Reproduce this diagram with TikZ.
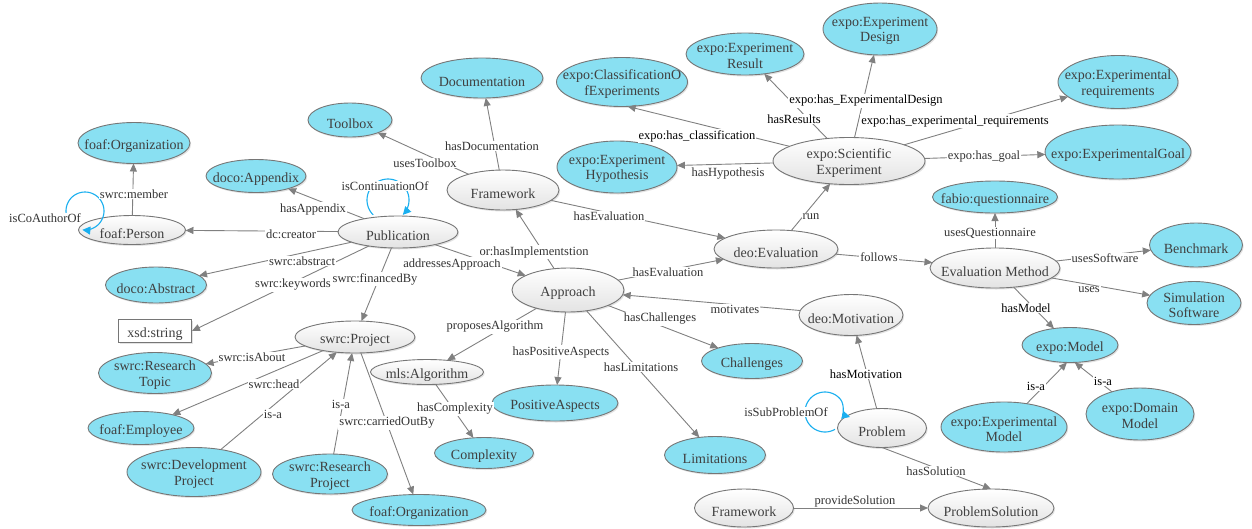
\documentclass[tikz,border=0pt]{standalone}
\usepackage{fontspec}
\setmainfont{Liberation Serif}
\usetikzlibrary{shapes.geometric,arrows.meta,shadows,calc}
\definecolor{bluec}{RGB}{137,224,242}
\definecolor{bordc}{RGB}{118,118,118}
\definecolor{edgec}{RGB}{128,128,128}
\definecolor{txtc}{RGB}{64,64,64}
\definecolor{lblc}{RGB}{50,50,50}
\definecolor{loopc}{RGB}{26,175,239}
\newcommand{\ellnode}[8]{\node[#6, minimum width=#4pt, minimum height=#5pt] (#1) at (#2,#3) {};\node[#7] (#1-t) at (#2,#3) {#8};}
\begin{document}
\begin{tikzpicture}[x=1pt,y=-1pt,
 shp/.style={ellipse, draw=bordc, line width=0.9pt, inner sep=0pt, outer sep=0pt, drop shadow={shadow xshift=1.2pt, shadow yshift=-1.5pt, opacity=0.22}},
 bnode/.style={shp, fill=bluec},
 wnode/.style={shp, top color=white, bottom color=black!11},
 rnode/.style={rectangle, draw=bordc, line width=0.9pt, inner sep=0pt, fill=white, drop shadow={shadow xshift=1.2pt, shadow yshift=-1.5pt, opacity=0.22}},
 txtm/.style={text=txtc, font=\fontsize{14}{15.5}\selectfont, align=center, inner sep=0pt, yshift=-2pt},
 txt1/.style={text=txtc, font=\fontsize{14}{15.5}\selectfont, inner sep=0pt, yshift=-3.5pt},
 conn/.style={draw=edgec, line width=0.9pt, -{Triangle[length=8pt,width=7pt]}},
 lbl/.style={fill=white, inner sep=1pt, text=lblc, font=\fontsize{12.5}{14}\selectfont},
 loopedge/.style={draw=loopc, line width=1.1pt, -{Triangle[length=8pt,width=8pt]}}
]
\useasboundingbox (0,0) rectangle (1252,528);
% nodes
\ellnode{orgTop}{134}{143}{112}{41}{bnode}{txt1}{foaf:Organization}
\ellnode{person}{132}{230}{107}{29}{wnode}{txt1}{foaf:Person}
\ellnode{appendix}{256}{176}{100}{33}{bnode}{txt1}{doco:Appendix}
\ellnode{toolbox}{350}{120}{84}{34}{bnode}{txt1}{Toolbox}
\ellnode{doc}{482}{78}{122}{40}{bnode}{txt1}{Documentation}
\ellnode{fwTop}{503}{190}{112}{40}{wnode}{txt1}{Framework}
\ellnode{pub}{398}{232}{120}{32}{wnode}{txt1}{Publication}
\ellnode{abstract}{156}{285}{101}{36}{bnode}{txt1}{doco:Abstract}
\node[rnode, minimum width=73pt, minimum height=23pt] (xsd) at (155,331) {};
\node[txt1] (xsd-t) at (155,331) {xsd:string};
\ellnode{topic}{155}{373}{113}{41}{bnode}{txtm}{swrc:Research\\Topic}
\ellnode{employee}{141}{428}{106}{33}{bnode}{txt1}{foaf:Employee}
\ellnode{devproj}{194}{472}{134}{49}{bnode}{txtm}{swrc:Development\\Project}
\ellnode{project}{355}{337}{120}{32}{wnode}{txt1}{swrc:Project}
\ellnode{resproj}{330}{474}{115}{40}{bnode}{txtm}{swrc:Research\\Project}
\ellnode{orgBot}{419}{510}{134}{31}{bnode}{txt1}{foaf:Organization}
\ellnode{algo}{427}{372}{113}{25}{wnode}{txt1}{mls:Algorithm}
\ellnode{complexity}{484}{453}{99}{31}{bnode}{txt1}{Complexity}
\ellnode{positive}{555}{403}{126}{36}{bnode}{txt1}{PositiveAspects}
\ellnode{approach}{568}{290}{112}{44}{wnode}{txt1}{Approach}
\ellnode{classif}{622}{82}{131}{49}{bnode}{txtm}{expo:ClassificationO\\fExperiments}
\ellnode{result}{745}{54}{118}{42}{bnode}{txtm}{expo:Experiment\\Result}
\ellnode{design}{880}{29}{114}{52}{bnode}{txtm}{expo:Experiment\\Design}
\ellnode{hypo}{617}{167}{120}{52}{bnode}{txtm}{expo:Experiment\\Hypothesis}
\ellnode{sciexp}{849}{161}{152}{47}{wnode}{txtm}{expo:Scientific\\Experiment}
\ellnode{req}{1118}{82}{120}{53}{bnode}{txtm}{expo:Experimental\\requirements}
\ellnode{goal}{1118}{152}{146}{54}{bnode}{txt1}{expo:ExperimentalGoal}
\ellnode{quest}{995}{197}{125}{32}{bnode}{txt1}{fabio:questionnaire}
\ellnode{evalm}{995}{268}{130}{40}{wnode}{txt1}{Evaluation Method}
\ellnode{bench}{1196}{245}{93}{44}{bnode}{txt1}{Benchmark}
\ellnode{sim}{1194}{303}{94}{43}{bnode}{txtm}{Simulation\\Software}
\ellnode{model}{1070}{345}{96}{35}{bnode}{txt1}{expo:Model}
\ellnode{expmodel}{1004}{427}{126}{50}{bnode}{txtm}{expo:Experimental\\Model}
\ellnode{dommodel}{1140}{414}{108}{52}{bnode}{txtm}{expo:Domain\\Model}
\ellnode{deoeval}{776}{249}{124}{38}{wnode}{txt1}{deo:Evaluation}
\ellnode{motiv}{851}{315}{104}{41}{wnode}{txt1}{deo:Motivation}
\ellnode{challenges}{752}{361}{101}{35}{bnode}{txt1}{Challenges}
\ellnode{limits}{715}{455}{101}{37}{bnode}{txt1}{Limitations}
\ellnode{problem}{882}{428}{89}{39}{wnode}{txt1}{Problem}
\ellnode{fwBot}{744}{508}{99}{38}{wnode}{txt1}{Framework}
\ellnode{solution}{991}{508}{126}{38}{wnode}{txt1}{ProblemSolution}
% connectors
\draw[conn] (person) -- (orgTop);
\draw[conn] (pub) -- (person);
\draw[conn] (pub) -- (appendix);
\draw[conn] (pub) -- (abstract);
\draw[conn] (pub) -- (xsd.east);
\draw[conn] (pub) -- (project);
\draw[conn] (pub) -- (approach);
\draw[conn] (fwTop) -- (toolbox);
\draw[conn] (fwTop) -- (doc);
\draw[conn] (fwTop) -- (deoeval);
\draw[conn] (approach) -- (fwTop);
\draw[conn] (approach) -- (deoeval);
\draw[conn] (motiv) -- (approach);
\draw[conn] (approach) -- (challenges);
\draw[conn] (approach) -- (limits);
\draw[conn] (approach) -- (positive);
\draw[conn] (approach) -- (algo);
\draw[conn] (algo) -- (complexity);
\draw[conn] (project) -- (topic);
\draw[conn] (project) -- (employee);
\draw[conn] (devproj) -- (project);
\draw[conn] (resproj) -- (project);
\draw[conn] (project) -- (orgBot);
\draw[conn] (sciexp) -- (classif.283);
\draw[conn] (sciexp) -- (hypo);
\draw[conn] (sciexp) -- (result);
\draw[conn] (sciexp) -- (design);
\draw[conn] (sciexp) -- (req);
\draw[conn] (sciexp) -- (goal);
\draw[conn] (deoeval) -- (sciexp);
\draw[conn] (deoeval) -- (evalm);
\draw[conn] (evalm) -- (quest);
\draw[conn] (evalm) -- (bench);
\draw[conn] (evalm) -- (sim);
\draw[conn] (evalm) -- (model);
\draw[conn] (expmodel) -- (model.-100);
\draw[conn] (dommodel) -- (model.-75);
\draw[conn] (problem) -- (motiv);
\draw[conn] (problem.south) -- (solution.north);
\draw[conn] (fwBot) -- (solution);
% self loops
\draw[loopedge] plot[domain=150:458, samples=60] ({85+19*cos(\x)},{211+19*sin(\x)});
\draw[loopedge] plot[domain=135:405, samples=60] ({388+21*cos(\x)},{200+21*sin(\x)});
\draw[loopedge] plot[domain=60:320, samples=60] ({825+20*cos(\x)},{412+20*sin(\x)}) .. controls (844.8,404.5) and (843,415) .. (850,417);
% labels
\node[lbl] (l1) at (134,194) {swrc:member};
\node[lbl] (l2) at (291,234) {dc:creator};
\node[lbl] (l3) at (313,209) {hasAppendix};
\node[lbl] (l4) at (302,261) {swrc:abstract};
\node[lbl] (l5) at (293,285) {swrc:keywords};
\node[lbl] (l6) at (375,279) {swrc:financedBy};
\node[lbl] (l7) at (452,264) {addressesApproach};
\node[lbl] (l8) at (425,163) {usesToolbox};
\node[lbl] (l9) at (492,146) {hasDocumentation};
\node[lbl] (l10) at (609,216) {hasEvaluation};
\node[lbl] (l11) at (534,252) {or:hasImplementstion};
\node[lbl] (l12) at (668,272) {hasEvaluation};
\node[lbl] (l13) at (735,309) {motivates};
\node[lbl] (l14) at (660,319) {hasChallenges};
\node[lbl] (l15) at (641,367) {hasLimitations};
\node[lbl] (l16) at (561,352) {hasPositiveAspects};
\node[lbl] (l17) at (495,327) {proposesAlgorithm};
\node[lbl] (l18) at (455,409) {hasComplexity};
\node[lbl] (l19) at (252,357) {swrc:isAbout};
\node[lbl] (l20) at (274,384) {swrc:head};
\node[lbl] (l21) at (273,414) {is-a};
\node[lbl] (l22) at (341,404) {is-a};
\node[lbl] (l23) at (387,423) {swrc:carriedOutBy};
\node[lbl, text=black] (l24) at (697,136) {expo:has\_classification};
\node[lbl] (l25) at (728,174) {hasHypothesis};
\node[lbl, text=black] (l26) at (794,119) {hasResults};
\node[lbl, text=black] (l27) at (866,101) {expo:has\_ExperimentalDesign};
\node[lbl, text=black] (l28) at (955,121) {expo:has\_experimental\_requirements};
\node[lbl] (l29) at (984,157) {expo:has\_goal};
\node[lbl] (l30) at (811,217) {run};
\node[lbl] (l31) at (879,257) {follows};
\node[lbl] (l32) at (990,233) {usesQuestionnaire};
\node[lbl] (l33) at (1105,258) {usesSoftware};
\node[lbl] (l34) at (1089,290) {uses};
\node[lbl, text=black] (l35) at (1026,308) {hasModel};
\node[lbl, text=black] (l36) at (1036,386) {is-a};
\node[lbl, text=black] (l37) at (1103,381) {is-a};
\node[lbl, text=black] (l38) at (866,374) {hasMotivation};
\node[lbl] (l39) at (936,471) {hasSolution};
\node[lbl] (l40) at (855,501) {provideSolution};
\node[lbl] (l41) at (45,218) {isCoAuthorOf};
\node[lbl] (l42) at (385,186) {isContinuationOf};
\node[lbl] (l43) at (786,412) {isSubProblemOf};
\end{tikzpicture}
\end{document}
